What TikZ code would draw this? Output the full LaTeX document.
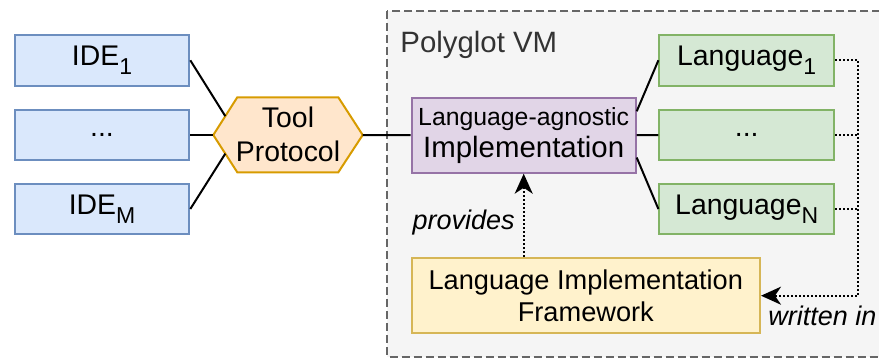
\documentclass[tikz,border=0pt]{standalone}
\usepackage{fontspec}
\setmainfont{Liberation Sans}
\usetikzlibrary{arrows.meta,calc}
\definecolor{bluefill}{HTML}{DAE8FC}\definecolor{blueline}{HTML}{6C8EBF}
\definecolor{orfill}{HTML}{FFE6CC}\definecolor{orline}{HTML}{D79B00}
\definecolor{pufill}{HTML}{E1D5E7}\definecolor{puline}{HTML}{9673A6}
\definecolor{grfill}{HTML}{D5E8D4}\definecolor{grline}{HTML}{82B366}
\definecolor{yefill}{HTML}{FFF2CC}\definecolor{yeline}{HTML}{D6B656}
\definecolor{vmfill}{HTML}{F5F5F5}\definecolor{vmline}{HTML}{666666}
\definecolor{vmtext}{HTML}{333333}
\newcommand{\mysubscr}[1]{\raisebox{-0.3em}{\fontsize{11.5}{12}\selectfont #1}}
\begin{document}
\begin{tikzpicture}[x=0.5pt,y=-0.5pt,
  mainfont/.style={font=\fontsize{14.2}{17}\selectfont},
  bigfont/.style={font=\fontsize{14.7}{17}\selectfont},
  box/.style={draw, line width=1pt, inner sep=0pt, align=center, mainfont},
  idebox/.style={box, fill=bluefill, draw=blueline, minimum width=87.3pt, minimum height=25.3pt},
  langbox/.style={box, fill=grfill, draw=grline, minimum width=87.3pt, minimum height=25.3pt},
  conn/.style={line width=1pt, black},
  dotconn/.style={line width=1pt, black, dash pattern=on 1pt off 1pt},
  tip/.style={-{Stealth[length=10pt,width=9pt,inset=3pt]}},
  lbl/.style={font=\fontsize{13.5}{16}\selectfont\itshape, inner sep=0pt}
]
\useasboundingbox (0,0) rectangle (879,358);
\begin{scope}
\clip (0,0) rectangle (879,358);
% container
\draw[fill=vmfill, draw=vmline, line width=1pt, dash pattern=on 4pt off 2pt] (387,11) rectangle (900,356.5);
\node[anchor=base west, inner sep=0pt, bigfont, text=vmtext] (vm) at (400,53) {Polyglot VM};

% IDE boxes
\node[idebox] (ide1) at (102,60.3) {IDE\mysubscr{1}};
\node[idebox] (idedots) at (102,135) {...};
\node[idebox] (idem) at (102,209) {IDE\mysubscr{M}};

% hexagon
\coordinate (hW) at (213.3,135);
\coordinate (hNW) at (237.3,97.3);
\coordinate (hNE) at (338.3,97.3);
\coordinate (hE) at (362.7,135);
\coordinate (hSE) at (338.3,172.3);
\coordinate (hSW) at (237.3,172.3);
\draw[fill=orfill, draw=orline, line width=1pt, line join=miter] (hW) -- (hNW) -- (hNE) -- (hE) -- (hSE) -- (hSW) -- cycle;
\node[mainfont, align=center, inner sep=0pt] (tp) at (288,134) {Tool\\Protocol};
\coordinate (hUL) at ($(hW)!0.5!(hNW)$);
\coordinate (hLL) at ($(hW)!0.5!(hSW)$);

% purple
\node[box, fill=pufill, draw=puline, minimum width=112pt, minimum height=37.5pt, bigfont] (impl) at (523.7,135.2)
  {{\fontsize{12.4}{14}\selectfont Language-agnostic}\\[-1pt]Implementation};

% languages
\node[langbox] (lang1) at (746.7,60.3) {Language\mysubscr{1}};
\node[langbox] (langdots) at (746.7,135) {...};
\node[langbox] (langn) at (746.7,209) {Language\mysubscr{N}};

% framework
\node[box, fill=yefill, draw=yeline, minimum width=174.2pt, minimum height=37.7pt, font=\fontsize{13.6}{16.2}\selectfont] (fw) at (585.8,295.7)
  {Language Implementation\\Framework};

% connectors
\draw[conn] (ide1.east) -- (hUL);
\draw[conn] (idedots.east) -- (hW);
\draw[conn] (idem.east) -- (hLL);
\draw[conn] (hE) -- (impl.west);
\draw[conn] ($(impl.north east)!0.19!(impl.south east)$) -- (lang1.west);
\draw[conn] (impl.east) -- (langdots.west);
\draw[conn] ($(impl.north east)!0.79!(impl.south east)$) -- (langn.west);

\coordinate (wc) at (858.3,295.7);
\draw[dotconn, tip] (lang1.east) -| (wc) -- (fw.east);
\draw[dotconn] (langdots.east) -- (langdots.east -| wc);
\draw[dotconn] (langn.east) -- (langn.east -| wc);
\draw[dotconn, tip] (fw.north -| impl.south) -- (impl.south);

\node[lbl, anchor=base east] (prov) at (515,229.3) {provides};
\node[lbl, anchor=base west] (wrin) at (768,325) {written in};
\end{scope}
\end{tikzpicture}
\end{document}
